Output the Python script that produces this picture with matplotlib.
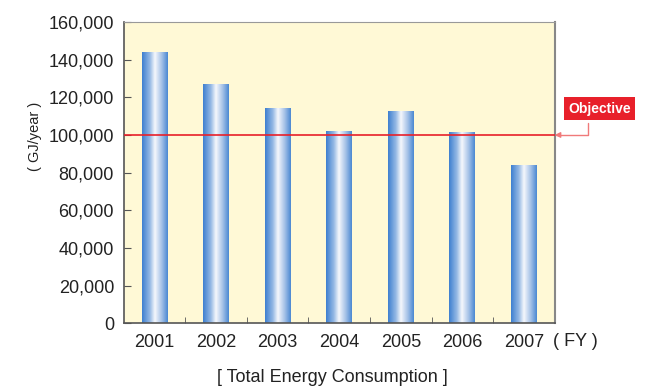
import numpy as np
import matplotlib.pyplot as plt
from matplotlib.colors import LinearSegmentedColormap

plt.rcParams['font.family'] = ['Liberation Sans', 'DejaVu Sans']

years = ['2001', '2002', '2003', '2004', '2005', '2006', '2007']
consumption = [144000, 127000, 114000, 102000, 112500, 101000, 83500]
objective = 100000
y_ticks = [0, 20000, 40000, 60000, 80000, 100000, 120000, 140000, 160000]

text_color = '#222222'
red = '#e8202a'

fig = plt.figure(figsize=(6.45, 3.87), dpi=100)
ax = fig.add_axes([0.192, 0.165, 0.668, 0.778])
ax.set_facecolor('#fff9d6')

# horizontal blue-white-blue shading for the bars
bar_cmap = LinearSegmentedColormap.from_list(
    'bar', [(0.0, '#3d7fd0'), (0.3, '#94b8e4'), (0.5, '#f6f8fc'),
            (0.75, '#a8c4e8'), (1.0, '#4a88d2')])
gradient = np.linspace(0, 1, 256).reshape(1, -1)

x = np.arange(len(years))
bars = ax.bar(x, consumption, width=0.42, color='none', edgecolor='none')
for b in bars:
    bx, bw, bh = b.get_x(), b.get_width(), b.get_height()
    ax.imshow(gradient, extent=[bx, bx + bw, 0, bh], aspect='auto',
              cmap=bar_cmap, zorder=2, interpolation='bilinear')

ax.axhline(objective, color=red, lw=1.2, zorder=3)

ax.set_xlim(-0.5, len(years) - 0.5)
ax.set_ylim(0, 160000)

ax.set_xticks(x)
ax.set_xticklabels(years)
ax.set_xticks(np.arange(0.5, len(years) - 1, 1), minor=True)
ax.tick_params(axis='x', which='major', length=0, pad=8, labelsize=13,
               labelcolor=text_color)
ax.tick_params(axis='x', which='minor', direction='in', length=4,
               color='#555555')
ax.set_yticks(y_ticks)
ax.set_yticklabels([f'{v:,}' for v in y_ticks])
ax.tick_params(axis='y', direction='in', length=5, pad=7, labelsize=13,
               labelcolor=text_color, color='#555555')

for side in ['left', 'bottom']:
    ax.spines[side].set_color('#555555')
    ax.spines[side].set_linewidth(1.2)
ax.spines['top'].set_color('#999999')
ax.spines['top'].set_linewidth(0.8)
ax.spines['right'].set_color('#888888')
ax.spines['right'].set_linewidth(1.5)

ax.text(-0.206, 0.62, '( GJ/year )', transform=ax.transAxes, rotation=90,
        ha='center', va='center', fontsize=10.5, color=text_color)
ax.text(1.047, -0.06, '( FY )', transform=ax.transAxes, ha='center',
        va='center', fontsize=13, color=text_color)
fig.text(0.516, 0.025, '[ Total Energy Consumption ]', ha='center',
         va='center', fontsize=13, color=text_color)

# objective label with elbow connector to the right edge
ax.annotate('', xy=(1.0, objective), xycoords=('axes fraction', 'data'),
            xytext=(1.077, 106500), textcoords=('axes fraction', 'data'),
            arrowprops=dict(arrowstyle='-|>', color='#f07a7a', lw=1.0,
                            mutation_scale=8, shrinkA=0, shrinkB=0,
                            connectionstyle='angle,angleA=90,angleB=0,rad=0'),
            annotation_clip=False)
ax.text(1.105, 114000, 'Objective', transform=ax.get_yaxis_transform(),
        ha='center', va='center', fontsize=10, fontweight='bold',
        color='white', clip_on=False,
        bbox=dict(boxstyle='square,pad=0.3', fc=red, ec='none'))

fig.savefig('out.png', dpi=100)
